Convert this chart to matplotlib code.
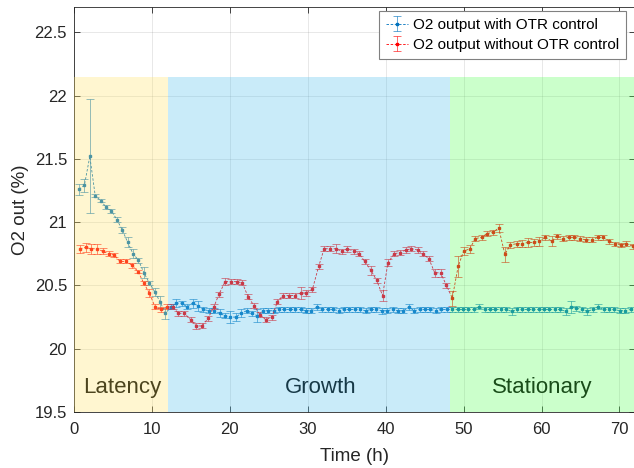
import matplotlib
matplotlib.use('Agg')
import matplotlib.pyplot as plt

plt.rcParams['font.family'] = ['Liberation Sans', 'DejaVu Sans']

# ---------------- data ----------------
blue_time = [0.64, 1.33, 2.03, 2.72, 3.42, 4.11, 4.80, 5.50, 6.19, 6.89, 7.58, 8.27, 8.97, 9.66,
             10.36, 11.05, 11.74, 12.44, 13.13, 13.83, 14.52, 15.21, 15.91, 16.60, 17.30, 17.99,
             18.68, 19.38, 20.07, 20.77, 21.46, 22.15, 22.85, 23.54, 24.24, 24.93, 25.62, 26.32,
             27.01, 27.71, 28.40, 29.09, 29.79, 30.48, 31.18, 31.87, 32.56, 33.26, 33.95, 34.65,
             35.34, 36.03, 36.73, 37.42, 38.12, 38.81, 39.50, 40.20, 40.89, 41.59, 42.28, 42.97,
             43.67, 44.36, 45.06, 45.75, 46.44, 47.14, 47.83, 48.53, 49.22, 49.91, 50.61, 51.30,
             52.00, 52.69, 53.38, 54.08, 54.77, 55.47, 56.16, 56.85, 57.55, 58.24, 58.94, 59.63,
             60.32, 61.02, 61.71, 62.41, 63.10, 63.79, 64.49, 65.18, 65.88, 66.57, 67.26, 67.96,
             68.65, 69.35, 70.04, 70.73, 71.43]
blue_o2 = [21.26, 21.29, 21.52, 21.21, 21.17, 21.12, 21.09, 21.02, 20.94, 20.84, 20.75, 20.70,
           20.60, 20.52, 20.45, 20.37, 20.28,
           20.33, 20.36, 20.36, 20.33, 20.36, 20.34, 20.31, 20.30, 20.30, 20.28, 20.26, 20.25,
           20.25, 20.28, 20.30, 20.28, 20.26, 20.30, 20.30, 20.30, 20.31, 20.31, 20.31, 20.31,
           20.31, 20.30, 20.30, 20.33, 20.31, 20.31, 20.31, 20.30, 20.31, 20.31, 20.31, 20.31,
           20.30, 20.31, 20.31, 20.30, 20.30, 20.31, 20.30, 20.30, 20.33, 20.30, 20.31, 20.31,
           20.31, 20.30,
           20.31, 20.31, 20.31, 20.31, 20.31, 20.31, 20.31, 20.33, 20.31, 20.31, 20.31, 20.31,
           20.31, 20.295, 20.31, 20.31, 20.31, 20.31, 20.31, 20.31, 20.31, 20.31, 20.31, 20.295,
           20.33, 20.32, 20.31, 20.295, 20.31, 20.33, 20.31, 20.31, 20.31, 20.30, 20.30, 20.31]
blue_err = [0.045, 0.05, 0.45, 0.01, 0.012, 0.015, 0.015, 0.02, 0.025, 0.04, 0.035, 0.02,
            0.045, 0.015, 0.03, 0.05, 0.045,
            0.02, 0.03, 0.02, 0.02, 0.035, 0.04, 0.02, 0.02, 0.02, 0.03, 0.02, 0.045,
            0.03, 0.03, 0.02, 0.02, 0.05, 0.02, 0.02, 0.02, 0.02, 0.02, 0.02, 0.02,
            0.02, 0.02, 0.02, 0.025, 0.02, 0.02, 0.02, 0.02, 0.02, 0.02, 0.02, 0.02,
            0.02, 0.02, 0.02, 0.025, 0.02, 0.02, 0.02, 0.02, 0.025, 0.02, 0.02, 0.02,
            0.02, 0.02,
            0.02, 0.02, 0.02, 0.02, 0.02, 0.02, 0.02, 0.02, 0.02, 0.02, 0.02, 0.02,
            0.02, 0.025, 0.02, 0.02, 0.02, 0.02, 0.02, 0.02, 0.02, 0.02, 0.02, 0.025,
            0.045, 0.02, 0.02, 0.025, 0.02, 0.02, 0.02, 0.02, 0.02, 0.02, 0.02, 0.02]

red_time = [0.77, 1.50, 2.18, 2.95, 3.68, 4.45, 5.17, 5.90, 6.67, 7.45, 8.22, 8.94, 9.67,
            10.40, 11.17, 11.90, 12.67, 13.40, 14.16, 14.96, 15.70, 16.45, 17.20, 17.95, 18.60,
            19.40, 20.10, 20.90, 21.60, 22.35, 23.10, 23.85, 24.60, 25.40, 26.10, 26.80, 27.60,
            28.30, 29.10, 29.80, 30.60, 31.40, 32.10, 32.90, 33.60, 34.40, 35.10, 35.90, 36.60,
            37.30, 38.10, 38.85, 39.60, 40.30, 41.10, 41.80, 42.60, 43.30, 44.10, 44.80, 45.55,
            46.30, 47.05, 47.80, 48.55, 49.30, 50.00, 50.80, 51.50, 52.30, 53.00, 53.80, 54.50,
            55.30, 56.00, 56.80, 57.50, 58.30, 59.00, 59.70, 60.50, 61.30, 62.00, 62.70, 63.50,
            64.20, 65.00, 65.70, 66.45, 67.20, 67.90, 68.70, 69.40, 70.20, 70.90, 71.70]
red_o2 = [20.79, 20.80, 20.79, 20.79, 20.77, 20.75, 20.74, 20.69, 20.69, 20.66, 20.61, 20.52,
          20.44, 20.33, 20.31, 20.33, 20.33, 20.28, 20.28, 20.23, 20.18, 20.18, 20.24, 20.33,
          20.43, 20.53, 20.53, 20.53, 20.52, 20.41, 20.34, 20.27, 20.23, 20.25, 20.37, 20.42,
          20.42, 20.42, 20.44, 20.44, 20.47, 20.65, 20.79, 20.79, 20.79, 20.77, 20.79, 20.77,
          20.75, 20.69, 20.62, 20.54, 20.42, 20.68, 20.75, 20.76, 20.78, 20.79, 20.78, 20.75,
          20.71, 20.60, 20.60, 20.50, 20.40, 20.65, 20.77, 20.79, 20.87, 20.88, 20.91, 20.92,
          20.955, 20.745, 20.82, 20.83, 20.83, 20.84, 20.84, 20.85, 20.88, 20.85, 20.89, 20.87,
          20.88, 20.88, 20.87, 20.86, 20.86, 20.88, 20.88, 20.85, 20.83, 20.82, 20.83, 20.81]
red_err = [0.03, 0.035, 0.04, 0.04, 0.025, 0.02, 0.015, 0.015, 0.015, 0.02, 0.015, 0.015,
           0.03, 0.02, 0.02, 0.02, 0.02, 0.02, 0.02, 0.02, 0.025, 0.02, 0.02, 0.02,
           0.02, 0.03, 0.02, 0.02, 0.02, 0.02, 0.02, 0.02, 0.02, 0.02, 0.02, 0.02,
           0.02, 0.02, 0.05, 0.025, 0.02, 0.02, 0.02, 0.02, 0.035, 0.02, 0.025, 0.02,
           0.02, 0.02, 0.035, 0.02, 0.04, 0.025, 0.02, 0.02, 0.02, 0.02, 0.02, 0.02,
           0.02, 0.03, 0.03, 0.02, 0.06, 0.08, 0.03, 0.03, 0.02, 0.02, 0.02, 0.02,
           0.03, 0.06, 0.025, 0.025, 0.03, 0.035, 0.03, 0.035, 0.02, 0.04, 0.02, 0.02,
           0.02, 0.02, 0.02, 0.02, 0.02, 0.02, 0.02, 0.02, 0.015, 0.015, 0.02, 0.02]

phase_names = ['Latency', 'Growth', 'Stationary']
phase_bounds = [(0, 12.0), (12.0, 48.3), (48.3, 72)]
phase_label_x = [6.2, 31.6, 60.1]
phase_colors = ['#FFE466', '#4DBEEE', '#55FF55']

# ---------------- figure ----------------
fig = plt.figure(figsize=(6.34, 4.68), dpi=100)
ax = fig.add_axes([74 / 634, 1 - 412 / 468, 561 / 634, 405 / 468])

blue = '#0072BD'
red = '#FF0000'

eb1 = ax.errorbar(blue_time, blue_o2, yerr=blue_err, fmt='s--', color=blue, ms=2.0,
                  lw=0.6, elinewidth=0.7, capsize=3.2, capthick=0.7,
                  label='O2 output with OTR control', zorder=3)
eb2 = ax.errorbar(red_time, red_o2, yerr=red_err, fmt='s--', color=red, ms=2.0,
                  lw=0.6, elinewidth=0.7, capsize=3.2, capthick=0.7,
                  label='O2 output without OTR control', zorder=3)
for eb in (eb1, eb2):
    eb[0].set_dashes([3, 2])
    for c in eb[1]:
        c.set_alpha(0.6)
    for c in eb[2]:
        c.set_alpha(0.6)

for name, (x0, x1), xl, col in zip(phase_names, phase_bounds, phase_label_x, phase_colors):
    ax.axvspan(x0, x1, ymin=0, ymax=(22.15 - 19.5) / (22.7 - 19.5), color=col,
               alpha=0.3, lw=0, zorder=5)
    ax.text(xl, 19.69, name, ha='center', va='center', fontsize=16, color='black', zorder=2)

ax.set_xlim(0, 72)
ax.set_ylim(19.5, 22.7)
ax.set_xticks(range(0, 71, 10))
ax.set_yticks([19.5, 20, 20.5, 21, 21.5, 22, 22.5])
ax.set_yticklabels(['19.5', '20', '20.5', '21', '21.5', '22', '22.5'])
ax.grid(True, color='#262626', alpha=0.12, lw=0.6, zorder=0)
ax.set_axisbelow(True)
ax.tick_params(direction='in', length=4, width=0.6, labelsize=12, colors='#262626',
               top=True, right=True)
ax.tick_params(axis='x', pad=7)
ax.tick_params(axis='y', pad=5)
for s in ax.spines.values():
    s.set_color('#262626')
    s.set_linewidth(0.6)
ax.set_xlabel('Time (h)', fontsize=13.5, color='#262626', labelpad=8)
ax.set_ylabel('O2 out (%)', fontsize=13.5, color='#262626', labelpad=4)

leg = ax.legend(loc='upper right', bbox_to_anchor=(626 / 634, 1 - 11 / 468),
                bbox_transform=fig.transFigure, borderaxespad=0, fontsize=11,
                fancybox=False, framealpha=1, edgecolor='#808080', handlelength=1.4,
                handletextpad=0.35, borderpad=0.45, labelspacing=0.4)
leg.get_frame().set_linewidth(0.8)
leg.set_zorder(10)

fig.savefig('out.png', dpi=100)
